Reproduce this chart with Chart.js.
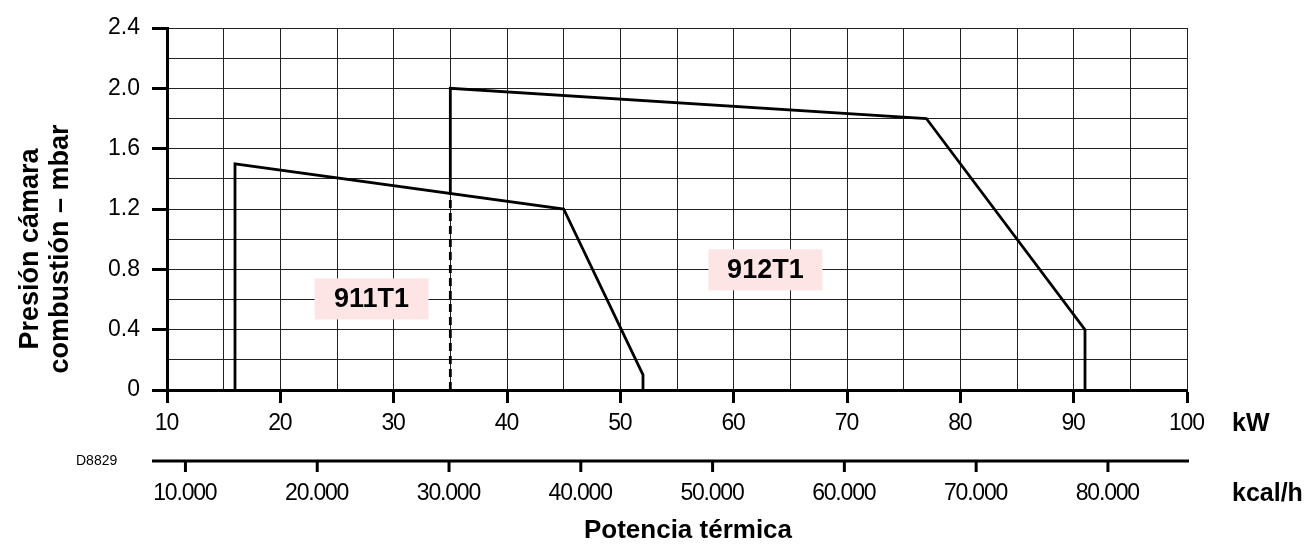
<!DOCTYPE html>
<html>
<head>
<meta charset="utf-8">
<script src="https://cdn.jsdelivr.net/npm/chart.js@4.4.0/dist/chart.umd.min.js"></script>
<style>
    html, body { margin: 0; padding: 0; background: #fff; }
    #wrap { width: 1307px; height: 556px; position: relative; }
</style>
</head>
<body>
<div id="wrap"><canvas id="chart"></canvas></div>
<script>
// curvas de trabajo (kW, mbar)
const kw911 = [16, 16, 45, 52, 52];
const mbar911 = [0, 1.5, 1.2, 0.1, 0];
const kw912 = [35, 35, 77, 91, 91];
const mbar912 = [1.3, 2.0, 1.8, 0.4, 0];
const kwDash = [35, 35];
const mbarDash = [0, 1.3];

// ejes
const kwMin = 10, kwMax = 100;
const mbarMin = 0, mbarMax = 2.4;
const kcalTicks = [10000, 20000, 30000, 40000, 50000, 60000, 70000, 80000];
const KCAL_PER_KW = 860;

// etiquetas de modelo: [texto, kW, mbar]
const modelLabels = [['911T1', 28.05, 0.607], ['912T1', 62.8, 0.8]];

const FONT = "'Liberation Sans', Arial, sans-serif";

function toPoints(xs, ys) {
    return xs.map((x, i) => ({ x, y: ys[i] }));
}

function fmtKcal(v) {
    return String(v).replace(/\B(?=(\d{3})+(?!\d))/g, '.');
}

const extrasPlugin = {
    id: 'extras',
    afterDraw(chart) {
        const { ctx } = chart;
        const x = chart.scales.x;
        const y = chart.scales.y;
        ctx.save();

        // cajas de modelo
        modelLabels.forEach(([txt, kx, my]) => {
            const cx = x.getPixelForValue(kx);
            const cy = y.getPixelForValue(my);
            ctx.fillStyle = '#fde5e5';
            ctx.fillRect(cx - 57, cy - 20, 114, 41);
            ctx.fillStyle = '#000';
            ctx.font = 'bold 27px ' + FONT;
            ctx.textAlign = 'center';
            ctx.textBaseline = 'middle';
            ctx.fillText(txt, cx, cy + 1);
        });

        // etiquetas kW (texto apretado como en el original)
        ctx.letterSpacing = '-1.2px';
        ctx.font = '23px ' + FONT;
        ctx.fillStyle = '#000';
        ctx.textAlign = 'center';
        ctx.textBaseline = 'middle';
        x.ticks.forEach(t => {
            if (t.value % 10 !== 0) return;
            ctx.fillText(String(t.value), x.getPixelForValue(t.value) - 0.6, 424);
        });

        // eje kcal/h
        const axisY = 461;
        ctx.strokeStyle = '#000';
        ctx.lineWidth = 3;
        ctx.beginPath();
        ctx.moveTo(152, axisY);
        ctx.lineTo(x.getPixelForValue(kwMax) + 2, axisY);
        ctx.stroke();
        kcalTicks.forEach(v => {
            const px = x.getPixelForValue(v / KCAL_PER_KW);
            ctx.beginPath();
            ctx.moveTo(px, axisY);
            ctx.lineTo(px, axisY + 11);
            ctx.stroke();
            ctx.fillText(fmtKcal(v), px - 0.6, 494);
        });
        ctx.letterSpacing = '0px';

        // unidades y títulos
        ctx.textAlign = 'left';
        ctx.font = 'bold 25px ' + FONT;
        ctx.fillText('kW', 1232, 424);
        ctx.fillText('kcal/h', 1232, 494);
        ctx.font = 'bold 26px ' + FONT;
        ctx.textAlign = 'center';
        ctx.fillText('Potencia térmica', 688, 531);

        ctx.font = '14px ' + FONT;
        ctx.textAlign = 'left';
        ctx.fillText('D8829', 76, 461);

        ctx.font = 'bold 27px ' + FONT;
        ctx.textAlign = 'center';
        [['Presión cámara', 31], ['combustión – mbar', 61]].forEach(([txt, px]) => {
            ctx.save();
            ctx.translate(px, 249);
            ctx.rotate(-Math.PI / 2);
            ctx.fillText(txt, 0, 0);
            ctx.restore();
        });

        ctx.restore();
    }
};

const lineStyle = {
    showLine: true,
    borderColor: '#000',
    borderWidth: 2.8,
    pointRadius: 0,
    fill: false,
    tension: 0
};

new Chart(document.getElementById('chart'), {
    type: 'scatter',
    data: {
        datasets: [
            { ...lineStyle, label: '911T1', data: toPoints(kw911, mbar911) },
            { ...lineStyle, label: '912T1', data: toPoints(kw912, mbar912) },
            { ...lineStyle, label: 'límite', data: toPoints(kwDash, mbarDash), borderDash: [8, 5], borderWidth: 2.8 }
        ]
    },
    options: {
        responsive: true,
        maintainAspectRatio: false,
        animation: false,
        layout: { padding: { left: 0, top: 28, right: 120, bottom: 0 } },
        plugins: {
            legend: { display: false },
            tooltip: { enabled: false }
        },
        scales: {
            x: {
                type: 'linear',
                min: kwMin,
                max: kwMax,
                afterFit: s => { s.height = 166; },
                ticks: {
                    stepSize: 5,
                    autoSkip: false,
                    maxRotation: 0,
                    padding: 8,
                    // dibujadas en el plugin con espaciado negativo
                    color: 'rgba(0,0,0,0)',
                    font: { family: FONT, size: 23 },
                    callback: v => (v % 10 === 0 ? String(v) : '')
                },
                grid: {
                    color: '#222',
                    lineWidth: 1,
                    drawTicks: true,
                    tickLength: 13,
                    tickWidth: 3,
                    tickColor: c => (c.tick && c.tick.value % 10 === 0 ? '#000' : 'rgba(0,0,0,0)')
                },
                border: { display: true, color: '#000', width: 3 }
            },
            y: {
                type: 'linear',
                min: mbarMin,
                max: mbarMax,
                afterFit: s => { s.width = 167; },
                ticks: {
                    stepSize: 0.2,
                    autoSkip: false,
                    padding: 12,
                    color: '#000',
                    font: { family: FONT, size: 23 },
                    callback: v => {
                        const k = Math.round(v * 10);
                        if (k % 4 !== 0) return '';
                        return k === 0 ? '0' : (k / 10).toFixed(1);
                    }
                },
                grid: {
                    color: '#222',
                    lineWidth: 1,
                    drawTicks: true,
                    tickLength: 15,
                    tickWidth: 3,
                    tickColor: c => (c.tick && Math.round(c.tick.value * 10) % 4 === 0 ? '#000' : 'rgba(0,0,0,0)')
                },
                border: { display: true, color: '#000', width: 3 }
            }
        }
    },
    plugins: [extrasPlugin]
});
</script>
</body>
</html>
